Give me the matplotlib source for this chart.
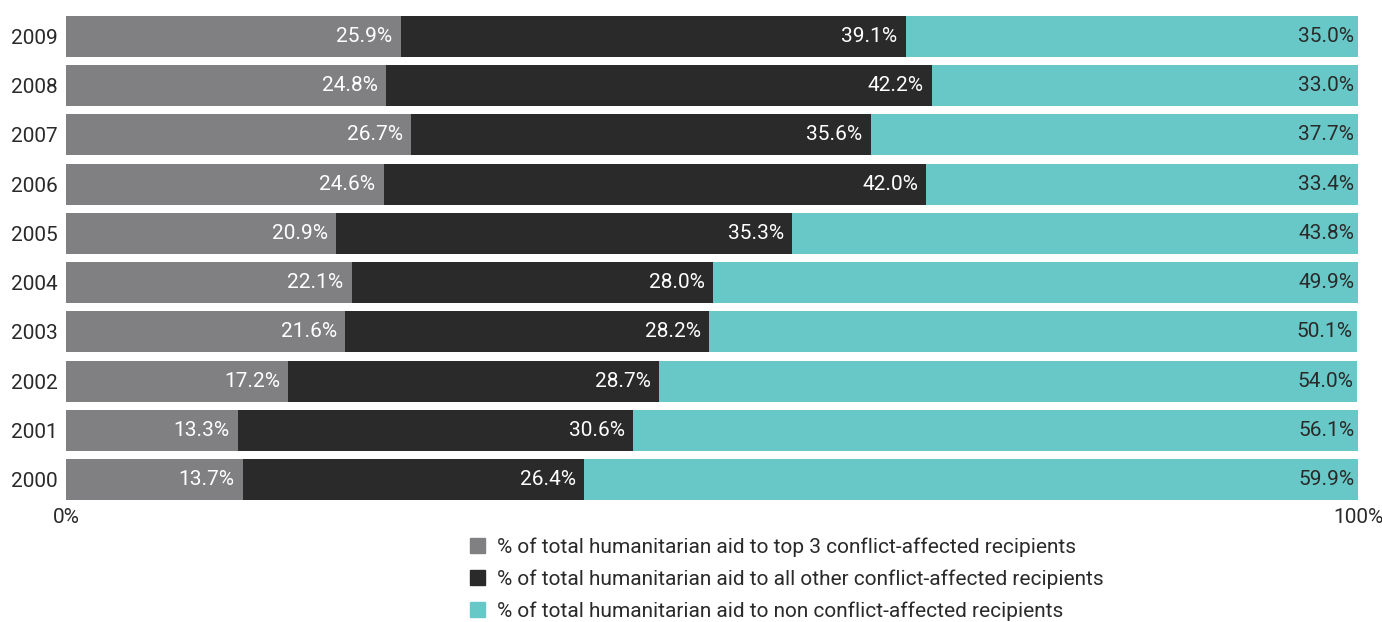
import matplotlib.pyplot as plt
import matplotlib.patches as mpatches

# data (share of total humanitarian aid, %)
years = ["2000", "2001", "2002", "2003", "2004", "2005", "2006", "2007", "2008", "2009"]
top3 = [13.7, 13.3, 17.2, 21.6, 22.1, 20.9, 24.6, 26.7, 24.8, 25.9]
other_conflict = [26.4, 30.6, 28.7, 28.2, 28.0, 35.3, 42.0, 35.6, 42.2, 39.1]
non_conflict = [59.9, 56.1, 54.0, 50.1, 49.9, 43.8, 33.4, 37.7, 33.0, 35.0]

series_names = [
    "% of total humanitarian aid to top 3 conflict-affected recipients",
    "% of total humanitarian aid to all other conflict-affected recipients",
    "% of total humanitarian aid to non conflict-affected recipients",
]
colors = ["#808083", "#2a2a2a", "#67c8c7"]
label_colors = ["white", "white", "#2a2a2a"]
label_pads = [0.65, 0.65, 0.3]

plt.rcParams["font.family"] = ["Roboto", "DejaVu Sans"]
fs = 15

fig = plt.figure(figsize=(13.82, 6.22), dpi=100)
ax = fig.add_axes([66 / 1382, 122 / 622, 1292 / 1382, 484 / 622])

y = list(range(len(years)))
left = [0.0] * len(years)
for vals, c, lc, pad in zip([top3, other_conflict, non_conflict], colors, label_colors, label_pads):
    ax.barh(y, vals, left=left, height=0.83, color=c, linewidth=0)
    for i, v in enumerate(vals):
        # value label right-aligned just inside the segment end
        ax.text(left[i] + v - pad, i, f"{v:.1f}%", ha="right", va="center",
                color=lc, fontsize=fs)
    left = [l + v for l, v in zip(left, vals)]

ax.set_xlim(0, 100)
ax.set_ylim(-0.415, 9.415)
ax.set_yticks(y)
ax.set_yticklabels(years, fontsize=fs, color="#2a2a2a")
ax.set_xticks([0, 100])
ax.set_xticklabels(["0%", "100%"], fontsize=fs, color="#2a2a2a")
ax.tick_params(length=0, pad=6)
ax.tick_params(axis="y", pad=6)
for s in ax.spines.values():
    s.set_visible(False)

handles = [mpatches.Patch(color=c, label=n) for c, n in zip(colors, series_names)]
fig.legend(handles=handles, loc="upper left", bbox_to_anchor=(462 / 1382, 1 - 529 / 622),
           borderaxespad=0, frameon=False, fontsize=fs, handlelength=0.72, handleheight=0.72,
           handletextpad=0.58, labelspacing=0.6, labelcolor="#2a2a2a")

fig.savefig("out.png", dpi=100)
